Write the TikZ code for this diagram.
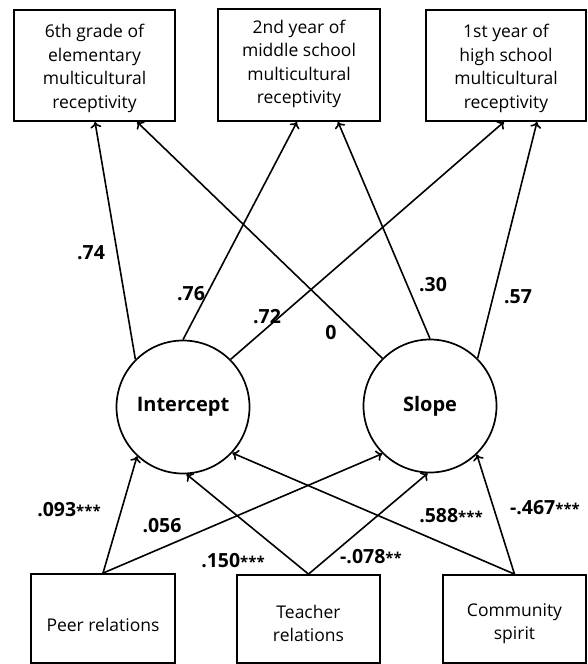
\documentclass[tikz,border=0pt]{standalone}
\usepackage{fontspec}
\setmainfont{Open Sans}
\usetikzlibrary{arrows.meta,calc}
\newcommand\astx[1]{{\fontsize{15}{15}\selectfont #1}}
\begin{document}
\begin{tikzpicture}[x=1pt,y=-1pt,
  obsbox/.style={draw,line width=1.8pt,inner sep=0pt},
  boxtext/.style={inner sep=0pt,align=center,font=\fontsize{17.5}{23.5}\selectfont},
  latent/.style={draw,circle,line width=1.7pt,minimum size=133pt,inner sep=0pt,font=\bfseries\fontsize{20}{22}\selectfont},
  arr/.style={line width=1.6pt,-{To[length=6pt,width=11pt,line width=1.6pt]}},
  lab/.style={inner sep=0pt,font=\bfseries\fontsize{19.5}{21}\selectfont}]
\useasboundingbox (0,0) rectangle (587,664);
% top boxes
\node[obsbox,minimum width=161pt,minimum height=111pt] (b1) at (94.5,65.5) {};
\node[obsbox,minimum width=162pt,minimum height=112pt] (b2) at (299,65) {};
\node[obsbox,minimum width=160pt,minimum height=111pt] (b3) at (506,65.5) {};
\node[boxtext] (t1) at ($(b1.center)+(0,3)$) {6th grade of\\elementary\\multicultural\\receptivity};
\node[boxtext] (t2) at ($(b2.center)+(0,-1)$) {2nd year of\\middle school\\multicultural\\receptivity};
\node[boxtext] (t3) at ($(b3.center)+(0,3)$) {1st year of\\high school\\multicultural\\receptivity};
% latent
\node[latent] (int) at (183,407) {Intercept};
\node[latent] (slo) at (430,406) {Slope};
% bottom boxes
\node[obsbox,minimum width=144pt,minimum height=89pt] (peer) at (103,618.5) {};
\node[obsbox,minimum width=143pt,minimum height=88pt] (tea) at (308.5,619) {};
\node[obsbox,minimum width=143pt,minimum height=88pt] (com) at (514.5,619) {};
\node[boxtext] (t4) at ($(peer.center)+(0,6)$) {Peer relations};
\node[boxtext] (t5) at ($(tea.center)+(0,4.5)$) {Teacher\\relations};
\node[boxtext] (t6) at ($(com.center)+(0,4.5)$) {Community\\spirit};
% loadings
\draw[arr] (int.135) -- ($(b1.south)+(0.5,0)$);
\draw[arr] (int.90) -- ($(b2.south)+(-2,0)$);
\draw[arr] (int.45) -- ($(b3.south)+(-2,0)$);
\draw[arr] (slo.135) -- ($(b1.south)+(42.5,0)$);
\draw[arr] (slo.90) -- ($(b2.south)+(39,0)$);
\draw[arr] (slo.45) -- ($(b3.south)+(31,0)$);
% predictors
\draw[arr] (peer.north) -- (int.227);
\draw[arr] (peer.north) -- (slo.225);
\draw[arr] (tea.north) -- (int.273);
\draw[arr] (tea.north) -- (slo.268);
\draw[arr] (com.north) -- (int.317);
\draw[arr] (com.north) -- (slo.314);
% labels
\node[lab] (l1) at (91,253) {.74};
\node[lab] (l2) at (191,294) {.76};
\node[lab] (l3) at (267,317) {.72};
\node[lab] (l4) at (331,333) {0};
\node[lab] (l5) at (433,285) {.30};
\node[lab] (l6) at (518,297) {.57};
\node[lab] (l7) at (69,510) {.093\astx{***}};
\node[lab] (l8) at (162,526) {.056};
\node[lab] (l9) at (233,561) {.150\astx{***}};
\node[lab] (l10) at (371,557) {-.078\astx{**}};
\node[lab] (l11) at (451,516) {.588\astx{***}};
\node[lab] (l12) at (545,508) {-.467\astx{***}};
\end{tikzpicture}
\end{document}
